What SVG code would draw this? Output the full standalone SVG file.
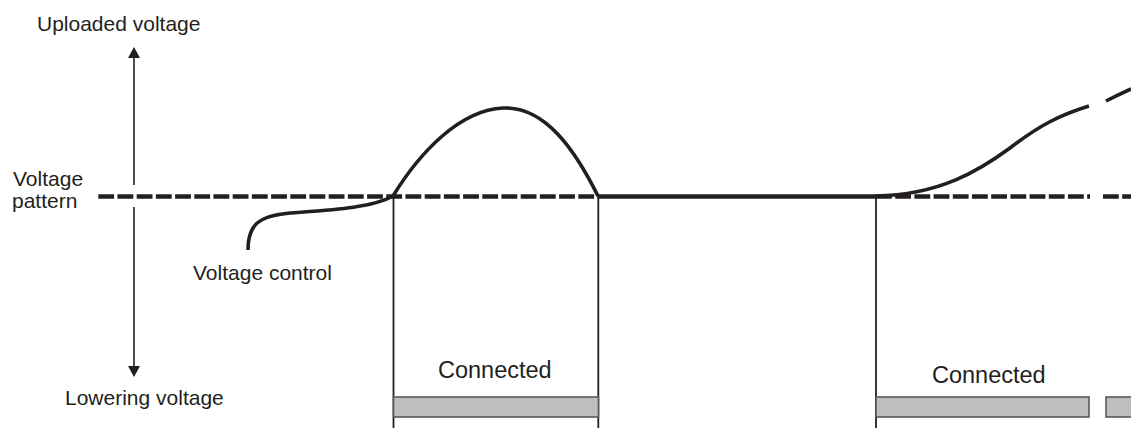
<svg xmlns="http://www.w3.org/2000/svg" width="1131" height="428" viewBox="0 0 1131 428">
<style>
.t{font-family:"Liberation Sans",Arial,sans-serif;font-size:21px;fill:#231f20}
.c{font-size:23.5px}
.dash{stroke:#231f20;stroke-width:4.5;fill:none;stroke-dasharray:15.8 3.4}
.solid{stroke:#231f20;stroke-width:4.5;fill:none}
.curve{stroke:#231f20;stroke-width:3.6;fill:none;stroke-linecap:butt}
.vline{stroke:#231f20;stroke-width:1.8}
.bar{fill:#bcbec0;stroke:#58595b;stroke-width:1.6}
.ax{stroke:#231f20;stroke-width:1.6}
.ah{fill:#231f20}
</style>
<rect width="1131" height="428" fill="#ffffff"/>
<g id="axis">
<line class="ax" x1="134" y1="56" x2="134" y2="185"/>
<polygon class="ah" points="134,47 128,58 140,58"/>
<line class="ax" x1="134" y1="207" x2="134" y2="368"/>
<polygon class="ah" points="134,377 128,366 140,366"/>
<text class="t" x="37" y="31">Uploaded voltage</text>
<text class="t" x="65" y="405">Lowering voltage</text>
</g>
<g id="pattern-label">
<text class="t" x="13" y="186">Voltage</text>
<text class="t" x="12" y="208">pattern</text>
</g>
<g id="connectors">
<line class="dash" x1="98.3" y1="196.5" x2="598" y2="196.5"/>
<line class="solid" x1="598" y1="196.5" x2="876" y2="196.5"/>
<line class="dash" x1="876" y1="196.5" x2="1090" y2="196.5"/>
<line class="dash" x1="1103" y1="196.5" x2="1131" y2="196.5"/>
<line class="vline" x1="393.5" y1="196" x2="393.5" y2="428"/>
<line class="vline" x1="598.3" y1="196" x2="598.3" y2="428"/>
<line class="vline" x1="876" y1="196" x2="876" y2="428"/>
<path class="curve" d="M248,250 C248,225 258,216 290,213 C330,210 372,208 393,196 C420,152 460,110 503,108 C545,106 575,150 598,196"/>
<path class="curve" d="M876,196 C940,195 980,170 1010,148 C1040,125 1060,115 1089,106"/>
<path class="curve" d="M1106,101 Q1118,95 1131,89"/>
</g>
<g id="voltage-control">
<text class="t" x="193" y="280">Voltage control</text>
</g>
<g id="connected-1">
<rect class="bar" x="393.5" y="397" width="205" height="20"/>
<text class="t c" x="438" y="378">Connected</text>
</g>
<g id="connected-2">
<rect class="bar" x="876" y="397" width="213" height="20"/>
<rect class="bar" x="1106" y="397" width="30" height="20"/>
<text class="t c" x="932" y="383">Connected</text>
</g>
</svg>
